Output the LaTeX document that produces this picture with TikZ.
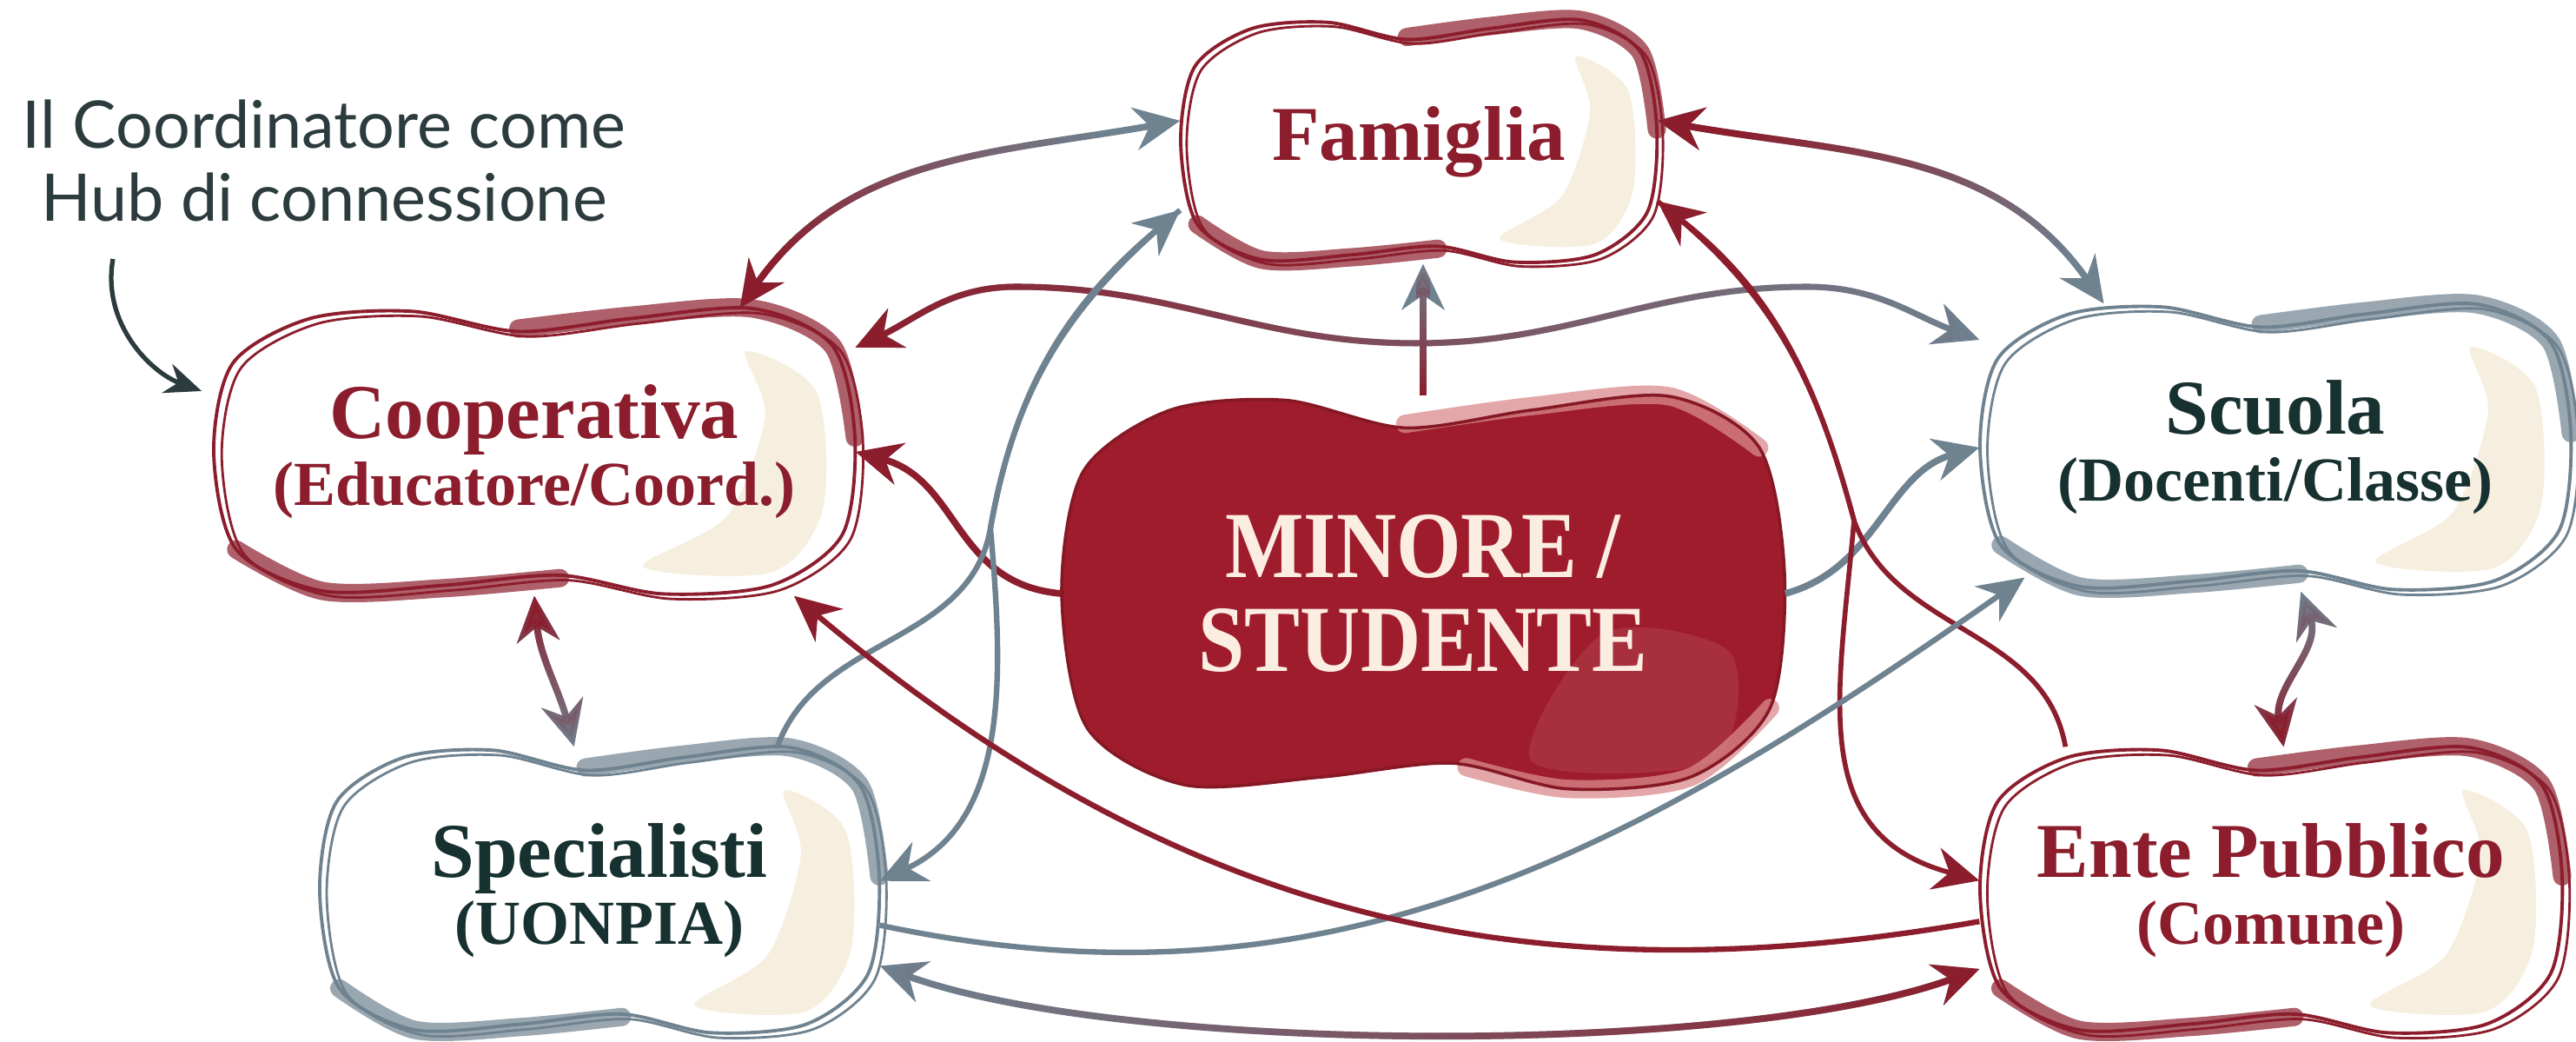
\documentclass[tikz,border=0pt]{standalone}
\usepackage{fontspec}
\setmainfont{Liberation Serif}
\newfontfamily\notefont{Lato}
\newfontfamily\minfont[FakeStretch=0.88]{Liberation Serif}
\usetikzlibrary{arrows.meta, backgrounds, fadings, calc}

\definecolor{wine}{HTML}{8C1D2C}
\definecolor{slate}{HTML}{6F8290}
\definecolor{ink}{HTML}{173030}
\definecolor{cream}{HTML}{EDDDBB}
\definecolor{minfill}{HTML}{9E1C2C}
\definecolor{rose}{HTML}{D98A8C}
\definecolor{mintext}{HTML}{FBEDE2}
\definecolor{notecol}{HTML}{2C3B3D}

\tikzfading[name=fadered, left color=transparent!0, right color=transparent!100]

\newcommand{\sublbl}{\fontsize{20.5}{22}\selectfont}
\newcommand{\blobline}{plot[smooth cycle] coordinates {(-1,0) (-0.94,0.62) (-0.7,0.93) (-0.38,0.98) (-0.05,0.84) (0.3,0.93) (0.68,1) (0.93,0.74) (1,0.1) (0.96,-0.58) (0.74,-0.93) (0.4,-0.99) (0.08,-0.86) (-0.28,-0.93) (-0.66,-0.97) (-0.93,-0.68)}}
\newcommand{\blob}[4]{% node, half width, half height, colour
  \begin{scope}[shift={(#1.center)}, xscale=#2, yscale=#3]
    \fill[white] \blobline;
    \fill[cream, opacity=.45] plot[smooth cycle] coordinates {(0.66,0.7) (0.88,0.42) (0.9,-0.4) (0.74,-0.84) (0.34,-0.8) (0.6,-0.45) (0.72,0.25)};
    \draw[#4, line width=6pt, opacity=.7, line cap=round] plot[smooth] coordinates {(-0.05,0.86) (0.3,0.95) (0.68,1.0) (0.93,0.74) (1.0,0.1)};
    \draw[#4, line width=6pt, opacity=.7, line cap=round] plot[smooth] coordinates {(0.08,-0.88) (-0.28,-0.95) (-0.66,-0.97) (-0.93,-0.68)};
    \draw[#4, line width=1.1pt] \blobline;
    \draw[#4, line width=.8pt, shift={(0.025,-0.035)}] \blobline;
  \end{scope}}

\tikzset{
  box/.style={inner sep=0pt, align=center, font=\bfseries\fontsize{25.4}{22}\selectfont},
  link/.style={line width=2.2pt, -{Stealth[length=15pt, width=14pt]}},
  both/.style={line width=2.2pt, {Stealth[length=15pt, width=14pt]}-{Stealth[length=15pt, width=14pt]}},
  redgray/.style={draw=slate, postaction={draw=wine, path fading=fadered, fading angle=#1}},
  notearrow/.style={notecol, line width=1.5pt, -{Stealth[length=12pt, width=10pt]}},
}

\begin{document}
\begin{tikzpicture}
\useasboundingbox (0,0) rectangle (29.65,11.98);
% Nodes
\node[box, minimum width=5.48cm, minimum height=2.8cm, text=wine] (fam) at (16.33,10.35) {Famiglia};
\node[box, minimum width=7.38cm, minimum height=3.3cm, text=wine] (coop) at (6.15,6.78) {Cooperativa\\{\sublbl (Educatore/Coord.)}};
\node[box, minimum width=6.8cm, minimum height=3.3cm, text=ink] (scu) at (26.19,6.83) {Scuola\\{\sublbl (Docenti/Classe)}};
\node[box, minimum width=6.44cm, minimum height=3.3cm, text=ink] (spec) at (6.9,1.73) {Specialisti\\{\sublbl (UONPIA)}};
\node[box, minimum width=6.7cm, minimum height=3.3cm, text=wine] (ente) at (26.14,1.73) {Ente Pubblico\\{\sublbl (Comune)}};
\node[box, minimum width=8.32cm, minimum height=4.54cm, text=mintext, font=\minfont\bfseries\fontsize{31}{30.5}\selectfont] (min) at (16.38,5.15) {MINORE /\\STUDENTE};
\node[align=center, text=notecol, font=\notefont\fontsize{21.5}{24}\selectfont] (note) at (3.73,10.13) {Il Coordinatore come\\Hub di connessione};
\coordinate (hubtail) at (1.3,9.0);
\coordinate (lx) at (11.4,5.9);
\coordinate (rx) at (21.34,5.99);
% Blobs
\begin{scope}[on background layer]
  \blob{fam}{2.74}{1.4}{wine}
  \blob{coop}{3.69}{1.65}{wine}
  \blob{scu}{3.4}{1.65}{slate}
  \blob{spec}{3.22}{1.65}{slate}
  \blob{ente}{3.35}{1.65}{wine}
  \begin{scope}[shift={(min.center)}, xscale=4.16, yscale=2.27]
    \fill[minfill] \blobline;
    \fill[rose!50!minfill, opacity=.35] plot[smooth cycle] coordinates {(0.5,-0.2) (0.85,-0.3) (0.8,-0.85) (0.3,-0.85)};
    \draw[rose, line width=6pt, opacity=.75, line cap=round] plot[smooth] coordinates {(-0.05,0.86) (0.3,0.95) (0.68,1.0) (0.93,0.74)};
    \draw[rose, line width=6pt, opacity=.75, line cap=round] plot[smooth] coordinates {(0.96,-0.58) (0.74,-0.93) (0.4,-0.99) (0.12,-0.88)};
    \draw[minfill!85!black, line width=1pt] \blobline;
  \end{scope}
\end{scope}
% Arrows
\draw[both, redgray=30] (coop.35) to[out=55,in=190] (fam.175);
\draw[both, redgray=-30] (fam.5) to[out=-10,in=125] (scu.140);
\draw[both, redgray=0, line width=2pt] (coop.18) to[out=25,in=180] (11.7,8.68) to[out=0,in=180] (16.3,8.03) to[out=0,in=180] (20.8,8.68) to[out=0,in=160] (scu.160);
\draw[link, redgray=90] (min.north) -- (min.north |- fam.south);
\draw[link, wine] (min.west) to[out=175,in=-15,looseness=1.1] (coop.east);
\draw[link, slate] (min.east) to[out=15,in=195] (scu.west);
\draw[link, slate, line width=1.8pt] (spec.39) to[out=70,in=-100] (lx) to[out=80,in=220] (fam.196);
\draw[link, slate, line width=1.8pt] (fam.196) to[out=220,in=80] (lx) to[out=-85,in=25] (spec.2);
\draw[link, wine, line width=1.6pt] (ente.145) to[out=100,in=-70] (rx) to[out=105,in=-38] (fam.-14);
\draw[link, wine, line width=1.6pt] (fam.-14) to[out=-38,in=105] (rx) to[out=-95,in=165,looseness=1.2] (ente.178);
\draw[link, slate, line width=1.8pt, shorten >=-8pt] (spec.-7) to[out=-12,in=215] (scu.208);
\draw[link, wine, line width=1.8pt] (ente.186) to[out=190,in=-40] (coop.-29);
\draw[both, redgray=180, looseness=.6] (spec.-15) to[out=-20,in=-160] (ente.195);
\draw[both, redgray=-90] (coop.south) to[out=-85,in=105] (spec.100);
\draw[both, redgray=90] (scu.-80) to[out=-70,in=100] (ente.85);
\draw[notearrow, shorten >=4pt] (hubtail) to[out=-100,in=160] (coop.170);
\end{tikzpicture}
\end{document}
